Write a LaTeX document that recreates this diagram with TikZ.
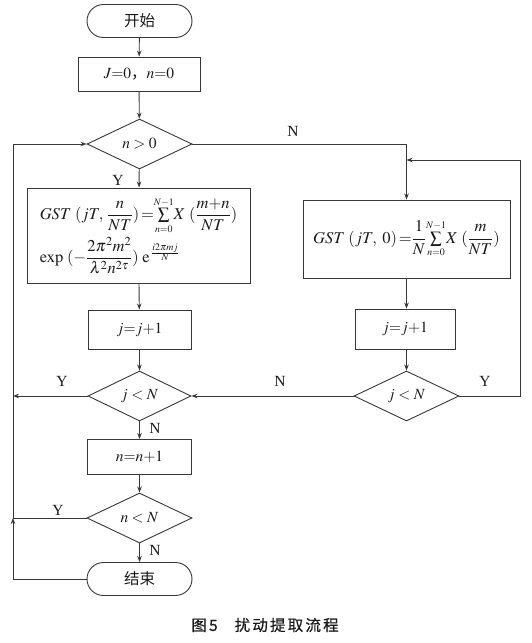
\documentclass[tikz,border=0pt]{standalone}
\usepackage{amsmath}
\usepackage{mathptmx}
\usepackage{fontspec}
\setmainfont{Liberation Serif}
\newfontfamily\cjk{Noto Sans CJK SC}
\newfontfamily\cjkcap[FakeBold=0.6,LetterSpace=14]{Noto Sans CJK SC}
\usetikzlibrary{shapes.geometric,arrows.meta}
\definecolor{lc}{RGB}{55,55,55}
\definecolor{tc}{RGB}{25,25,25}
\begin{document}
\begin{tikzpicture}[x=1pt,y=-1pt,
  font=\fontsize{15.5}{18}\selectfont, text=tc,
  line/.style={draw=lc, line width=0.9pt},
  arr/.style={line, -{Stealth[length=6pt,width=4.5pt]}},
  term/.style={line, rounded corners=16.5pt, minimum width=105pt, minimum height=33pt, inner sep=0pt},
  proc/.style={line, rectangle, inner sep=0pt},
  dec/.style={line, diamond, aspect=2, minimum width=105pt, minimum height=50pt, inner sep=0pt},
  lab/.style={inner sep=0pt},
  formula/.style={font=\fontsize{16.5}{19}\selectfont}]
\useasboundingbox (0,0) rectangle (531,643);

% left column
\node[term] (start) at (139.5,21) {\cjk 开始};
\node[proc, minimum width=122pt, minimum height=34pt] (init) at (139,74) {$J{=}0${\cjk ，}$n{=}0$};
\node[dec] (d1) at (139.5,144) {$n>0$};
\node[proc, formula, minimum width=223pt, minimum height=95pt, align=left] (g1) at (138.5,235.5)
  {$GST\,\,(jT,\,\dfrac{n}{NT})\,{=}\!\sum\limits_{\scriptscriptstyle n=0}^{\scriptscriptstyle N-1}\!X\,\,(\dfrac{m{+}n}{NT})$\\[2pt]
   $\exp\,\,(-\dfrac{2\pi^2m^2}{\lambda^2n^{2\tau}})\;\mathrm{e}^{\,\frac{i2\pi mj}{N}}$};
\node[proc, minimum width=103pt, minimum height=39pt] (j1) at (139.5,329.5) {$j{=}j{+}1$};
\node[dec, minimum width=103pt] (d2) at (139.5,396) {$j<N$};
\node[proc, minimum width=104pt, minimum height=35pt] (n1) at (139.5,457) {$n{=}n{+}1$};
\node[dec] (d3) at (139.5,518) {$n<N$};
\node[term] (end) at (139.5,579) {\cjk 结束};

% right column
\node[proc, formula, minimum width=207pt, minimum height=78pt] (g2) at (406.5,239)
  {$GST\,\,(jT,\,\,0)\,{=}\dfrac{1}{N}\!\sum\limits_{\scriptscriptstyle n=0}^{\scriptscriptstyle N-1}\!X\,\,(\dfrac{m}{NT})$};
\node[proc, minimum width=100pt, minimum height=40pt] (j2) at (405,329) {$j{=}j{+}1$};
\node[dec] (d4) at (406.5,396) {$j<N$};

% helper coordinates
\coordinate (L1) at (13,144);
\coordinate (L2) at (13,396);
\coordinate (L3) at (13,518);
\coordinate (L4) at (13,579);
\coordinate (R1) at (406.5,144);
\coordinate (R2) at (520,396);
\coordinate (R3) at (520,160);
\coordinate (R4) at (406.5,160);

% main flow
\draw[arr] (start) -- (init);
\draw[arr] (init) -- (d1);
\draw[arr] (d1) -- (g1);
\draw[arr] (g1) -- (j1);
\draw[arr] (j1) -- (d2);
\draw[arr] (d2) -- (n1);
\draw[arr] (n1) -- (d3);
\draw[arr] (d3) -- (end);

% right branch
\draw[arr] (d1.east) -- (R1) -- (g2.north);
\draw[arr] (g2.south) -- (g2.south |- j2.north);
\draw[arr] (j2.south -| d4.north) -- (d4.north);
\draw[arr] (d4.east) -- (R2) -- (R3) -- (R4);
\draw[arr] (d4.west) -- (d2.east);

% left loop
\draw[arr] (d2.west) -- (L2);
\draw[arr] (end.west) -- (L4) -- (L3);
\draw[arr] (d3.west) -- (L3) -- (L1) -- (d1.west);

% labels
\node[lab] (lN1) at (293,131) {N};
\node[lab] (lY1) at (118,180) {Y};
\node[lab] (lY2) at (62,381) {Y};
\node[lab] (lN2) at (280,381) {N};
\node[lab] (lY3) at (485,381) {Y};
\node[lab] (lN3) at (155,428) {N};
\node[lab] (lY4) at (58,510) {Y};
\node[lab] (lN4) at (155,550) {N};

% caption
\node[lab, font=\fontsize{15.5}{18}\selectfont] (cap) at (265,625) {\cjkcap 图5\hspace{1.1em}扰动提取流程};
\end{tikzpicture}
\end{document}
